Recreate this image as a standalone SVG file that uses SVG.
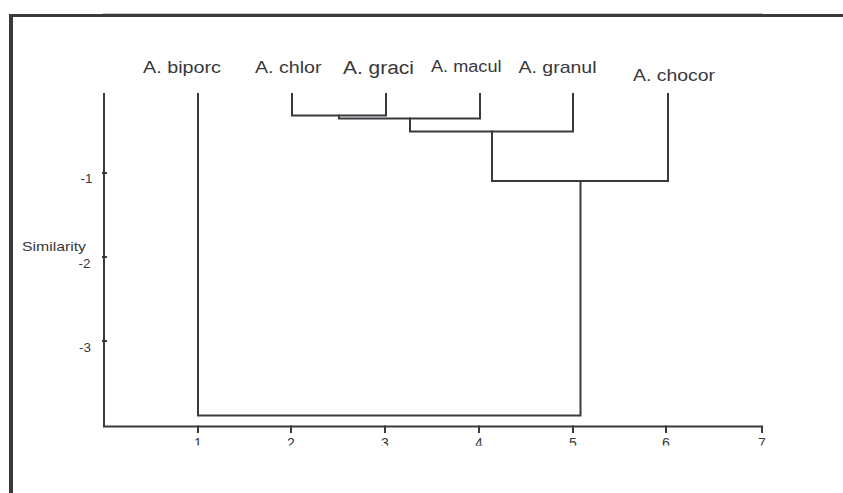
<svg xmlns="http://www.w3.org/2000/svg" width="843" height="493" viewBox="0 0 843 493">
  <style>
    .frame { fill: #3a3a3e; }
    .axis, .branch { fill: none; stroke: #3a3a3e; stroke-width: 2; stroke-linecap: square; stroke-linejoin: miter; }
    .leaf { font-family: "Liberation Sans", Arial, sans-serif; fill: #38383b; }
    .tick { font-family: "Liberation Sans", Arial, sans-serif; font-size: 13.5px; fill: #38383b; }
    .xtick { font-family: "Liberation Sans", Arial, sans-serif; font-size: 14px; fill: #38383b; text-anchor: middle; }
  </style>
  <defs>
    <clipPath id="tickClip">
      <rect x="0" y="426" width="843" height="19.5"/>
    </clipPath>
  </defs>
  <rect width="843" height="493" fill="#ffffff"/>

  <!-- outer frame -->
  <g id="frame">
    <rect class="frame" x="9" y="14" width="834" height="3"/>
    <rect x="103" y="13" width="660" height="1" fill="#c4c4c6"/>
    <rect class="frame" x="9" y="14" width="4" height="479"/>
  </g>

  <!-- axes and ticks -->
  <g id="axes">
    <path class="axis" d="M104,94 V426.5 H762 V432"/>
    <path class="axis" d="M198,426.5 V432 M291,426.5 V432 M385,426.5 V432 M479,426.5 V432 M573,426.5 V432 M666,426.5 V432"/>
    <path class="axis" stroke-width="1.5" d="M103,173 H106 M103,257 H106 M103,341 H106"/>
    <text class="tick" x="92.5" y="183" text-anchor="end">-1</text>
    <text class="tick" x="90.5" y="268" text-anchor="end">-2</text>
    <text class="tick" x="91" y="352" text-anchor="end">-3</text>
    <text class="tick" x="22" y="251" textLength="64" lengthAdjust="spacingAndGlyphs">Similarity</text>
    <g clip-path="url(#tickClip)">
      <text class="xtick" x="198" y="447.5">1</text>
      <text class="xtick" x="291" y="447.5">2</text>
      <text class="xtick" x="385" y="447.5">3</text>
      <text class="xtick" x="479" y="447.5">4</text>
      <text class="xtick" x="573" y="447.5">5</text>
      <text class="xtick" x="666" y="447.5">6</text>
      <text class="xtick" x="762" y="447.5">7</text>
    </g>
  </g>

  <!-- leaves -->
  <g id="leaf-biporc">
    <text class="leaf" x="143" y="73" font-size="17" textLength="78" lengthAdjust="spacingAndGlyphs">A. biporc</text>
  </g>
  <g id="leaf-chlor">
    <text class="leaf" x="255" y="73" font-size="16.5" textLength="66.5" lengthAdjust="spacingAndGlyphs">A. chlor</text>
  </g>
  <g id="leaf-graci">
    <text class="leaf" x="343" y="73.5" font-size="18" textLength="71" lengthAdjust="spacingAndGlyphs">A. graci</text>
  </g>
  <g id="leaf-macul">
    <text class="leaf" x="431" y="72" font-size="16" textLength="70.5" lengthAdjust="spacingAndGlyphs">A. macul</text>
  </g>
  <g id="leaf-granul">
    <text class="leaf" x="518.5" y="73" font-size="17" textLength="78" lengthAdjust="spacingAndGlyphs">A. granul</text>
  </g>
  <g id="leaf-chocor">
    <text class="leaf" x="633" y="81" font-size="17" textLength="82" lengthAdjust="spacingAndGlyphs">A. chocor</text>
  </g>

  <!-- dendrogram branches -->
  <g id="connectors">
    <path class="branch" d="M292,94 V115.5 H386 V94"/>
    <path class="branch" d="M339,115.5 V118.5 H480 V94"/>
    <path class="branch" d="M410,118.5 V131.5 H573 V94"/>
    <path class="branch" d="M492,131.5 V181 H668 V94"/>
    <path class="branch" d="M580.5,181 V415.5 H198 V94"/>
  </g>
</svg>
